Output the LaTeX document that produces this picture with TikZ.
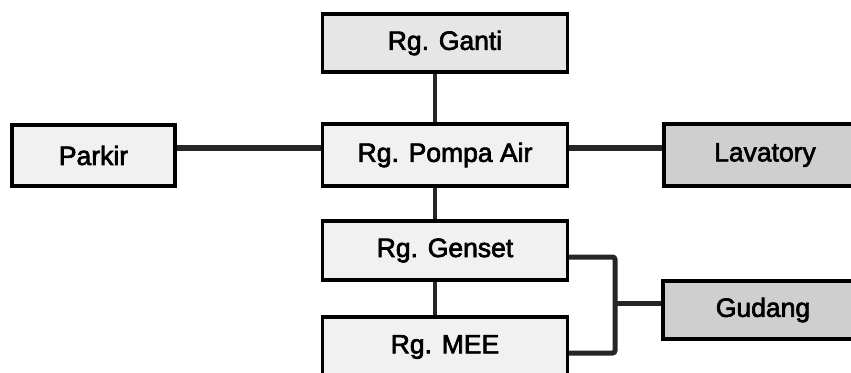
\documentclass[tikz,border=0pt]{standalone}
\usepackage{fontspec}
\setmainfont{Liberation Sans}
\newfontfamily\roomfont[FakeBold=2.5]{Liberation Sans}
\definecolor{lightbox}{HTML}{F1F1F1}
\definecolor{darkbox}{HTML}{CFCFCF}
\definecolor{gantibox}{HTML}{E6E6E6}
\begin{document}
\begin{tikzpicture}[x=1pt,y=-1pt,
  room/.style={draw=black,line width=3.2pt,fill=lightbox,inner sep=0pt,
    font=\roomfont\fontsize{26.5}{30}\selectfont,text=black},
  roomgray/.style={room,fill=darkbox},
  link/.style={draw=black!85,line width=5.6pt}]
\useasboundingbox (0,0) rectangle (851,372);
\node[room,fill=gantibox,minimum width=245pt,minimum height=58pt] (ganti) at (445,43) {Rg. Ganti};
\node[room,minimum width=245pt,minimum height=62pt] (pompa) at (445,155) {Rg. Pompa Air};
\node[room,minimum width=163pt,minimum height=61pt] (parkir) at (93.5,155.5) {Parkir};
\node[roomgray,minimum width=202pt,minimum height=62pt] (lavatory) at (765,155) {Lavatory};
\node[room,minimum width=245pt,minimum height=59pt] (genset) at (445,250.5) {Rg. Genset};
\node[room,minimum width=245pt,minimum height=60pt] (mee) at (445,347) {Rg. MEE};
\node[roomgray,minimum width=200pt,minimum height=58pt] (gudang) at (763,310) {Gudang};
\coordinate (vx) at (435,0);
\coordinate (hy) at (0,148);
\coordinate (bx) at (615,303);
\draw[link,line width=4.6pt] (ganti.south -| vx) -- (pompa.north -| vx);
\draw[link,line width=4.6pt] (pompa.south -| vx) -- (genset.north -| vx);
\draw[link,line width=4.6pt] (genset.south -| vx) -- (mee.north -| vx);
\draw[link] (parkir.east |- hy) -- (pompa.west |- hy);
\draw[link] (pompa.east |- hy) -- (lavatory.west |- hy);
\coordinate (gy) at (0,257);
\coordinate (my) at (0,353);
\draw[link,line width=5pt,rounded corners=2.5pt] (genset.east |- gy) -- (bx |- gy) -- (bx |- my) -- (mee.east |- my);
\draw[link,line width=5pt] (bx) -- (gudang.west |- bx);
\end{tikzpicture}
\end{document}
